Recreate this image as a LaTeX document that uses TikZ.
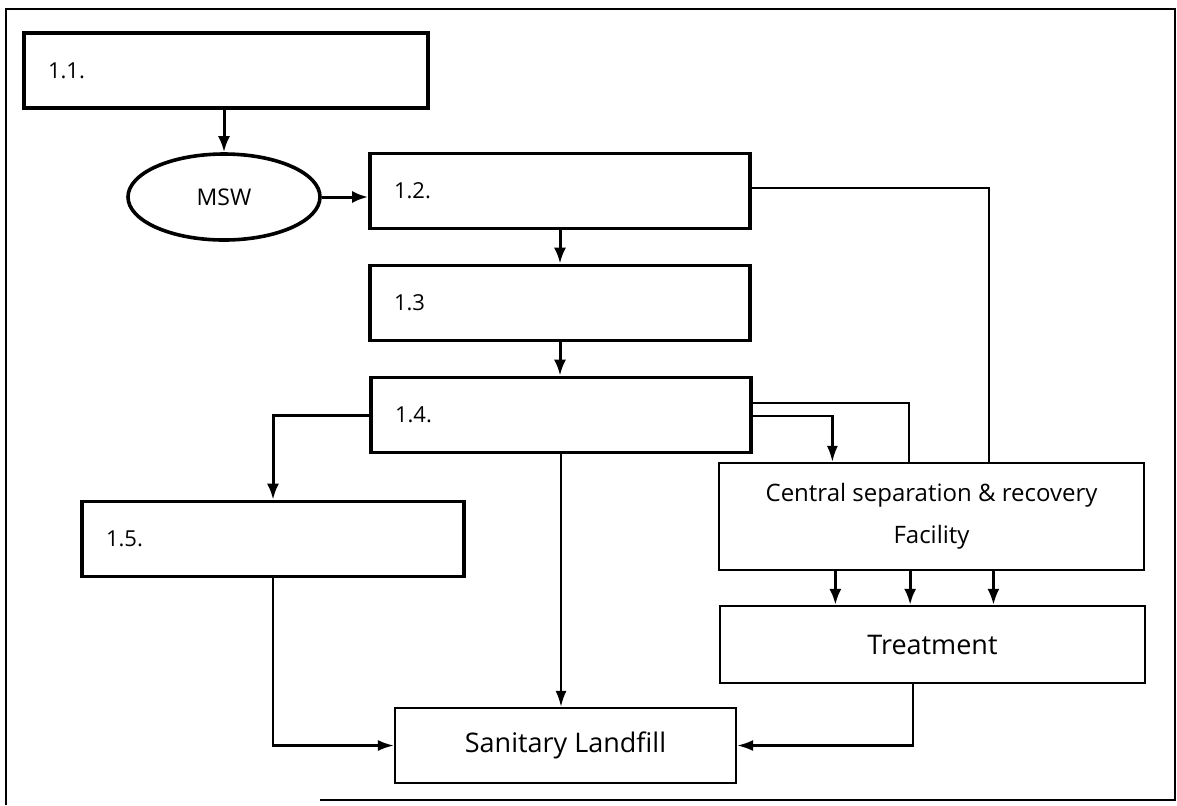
\documentclass[tikz,border=0pt]{standalone}
\usepackage{fontspec}
\setmainfont{Open Sans}
\usetikzlibrary{shapes.geometric, arrows.meta, positioning, calc}

\begin{document}
\begin{tikzpicture}[x=0.5pt, y=-0.5pt,
  stage/.style={draw, line width=1.8pt, minimum height=37.5pt,
                inner xsep=12pt, align=left,
                font=\fontsize{11}{13}\selectfont},
  unit/.style={draw, line width=1.1pt, align=center, inner sep=0pt},
  arr/.style={-{Latex[length=8pt,width=6pt]}, line width=1.5pt},
  tarr/.style={-{Latex[length=8pt,width=5.5pt]}, line width=1.2pt},
  link/.style={line width=1.1pt}
]
\useasboundingbox (0,0) rectangle (1177,805);
% outer border
\draw[line width=0.9pt] (320,800) -- (1175,800) -- (1175,9) -- (6,9) -- (6,805);

% stages 1.1 - 1.5
\node[stage, text width=178pt] (s11) at (226,70.5) {1.1.};
\node[draw, ellipse, line width=1.8pt, minimum width=96pt,
      minimum height=43pt, font=\fontsize{11.5}{13}\selectfont] (msw)
      at (224,197) {MSW};
\node[stage, text width=166pt] (s12) at (560,191) {1.2.};
\node[stage, text width=166pt] (s13) at (560,303) {1.3};
\node[stage, text width=166pt] (s14) at (561,415) {1.4.};
\node[stage, text width=167pt] (s15) at (273,539) {1.5.};

% facilities
\node[unit, minimum width=212.5pt, minimum height=53.5pt,
      font=\fontsize{12}{21}\selectfont] (csr) at (931.5,516.5)
      {Central separation \& recovery\\Facility};
\node[unit, minimum width=212.5pt, minimum height=38.5pt,
      font=\fontsize{13.5}{16}\selectfont] (trt) at (932.5,644.5)
      {Treatment};
\node[unit, minimum width=170.5pt, minimum height=37.5pt,
      font=\fontsize{13.5}{16}\selectfont] (lfl) at (565.5,745.5)
      {Sanitary Landfill};

% main chain
\draw[arr] (msw.north |- s11.south) -- (msw.north);
\draw[arr] (msw.east) -- (msw.east -| s12.west);
\draw[arr] (s12.south) -- (s13.north);
\draw[arr] (s13.south) -- (s13.south |- s14.north);
\draw[arr] (s14.west) -| (s15.north);
\draw[tarr] (s14.south) -- (s14.south |- lfl.north);

% feeds into the recovery facility
\draw[link] ([yshift=1.5pt]s12.east) -| ($(csr.north west)!0.635!(csr.north east)$);
\draw[link] ([yshift=6pt]s14.east) -| ($(csr.north west)!0.447!(csr.north east)$);
\draw[tarr] ([yshift=-0.5pt]s14.east) -| ($(csr.north west)!0.268!(csr.north east)$);

% facility -> treatment
\foreach \f in {0.275,0.45,0.645} {
  \path ($(csr.south west)!\f!(csr.south east)$) coordinate (p);
  \draw[arr] (p) -- (p |- trt.north);
}

% to landfill
\path ($(trt.south west)!0.454!(trt.south east)$) coordinate (q);
\draw[tarr] (s15.south) |- (lfl.west);
\draw[tarr] (q) |- (lfl.east);
\end{tikzpicture}
\end{document}
